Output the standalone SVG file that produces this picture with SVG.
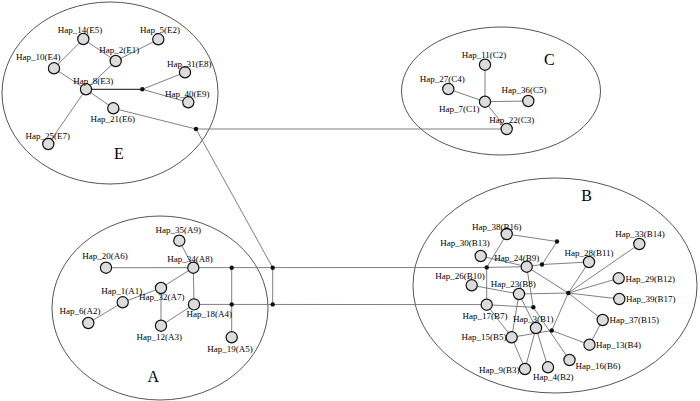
<svg xmlns="http://www.w3.org/2000/svg" width="700" height="401" viewBox="0 0 700 401">
<style>
.bg{fill:#fff}
.grp{fill:none;stroke:#555;stroke-width:1}
.e{stroke:#7f7f7f;stroke-width:1;fill:none}
.ed{stroke:#3a3a3a;stroke-width:1.2;fill:none}
.n circle{fill:#dcdcdc;stroke:#111;stroke-width:1.2}
.j circle{fill:#111;stroke:none}
text{font-family:"Liberation Serif","Times New Roman",serif;font-size:9px;fill:#000}
.big{font-size:16px}
.m{text-anchor:middle}
.s{text-anchor:start}
.en{text-anchor:end}
</style>
<rect class="bg" x="0" y="0" width="700" height="401"/>
<g id="groups">
<ellipse id="groupE" class="grp" cx="110" cy="93" rx="108" ry="91"/>
<ellipse id="groupC" class="grp" cx="501" cy="91" rx="99.5" ry="64"/>
<ellipse id="groupA" class="grp" cx="160" cy="308" rx="108" ry="92"/>
<ellipse id="groupB" class="grp" cx="555" cy="285.5" rx="142" ry="107.5"/>
<text class="big m" x="119" y="159">E</text>
<text class="big m" x="549.3" y="65">C</text>
<text class="big m" x="153.3" y="381.5">A</text>
<text class="big m" x="586.7" y="200.5">B</text>
</g>
<g id="connectors">
<line class="e" x1="83.3" y1="39" x2="54" y2="68.3"/>
<line class="e" x1="83.3" y1="39" x2="115.7" y2="61"/>
<line class="e" x1="158.3" y1="39.3" x2="115.7" y2="61"/>
<line class="e" x1="115.7" y1="61" x2="86" y2="89.3"/>
<line class="e" x1="54" y1="68.3" x2="86" y2="89.3"/>
<line class="e" x1="86" y1="89.3" x2="48.3" y2="144"/>
<line class="e" x1="86" y1="89.3" x2="113.3" y2="108.3"/>
<line class="ed" x1="86" y1="89.3" x2="142.3" y2="89.3"/>
<line class="e" x1="142.3" y1="89.3" x2="185" y2="72.3"/>
<line class="e" x1="142.3" y1="89.3" x2="188.3" y2="102.3"/>
<line class="e" x1="113.3" y1="108.3" x2="196" y2="129"/>
<line class="e" x1="196" y1="129" x2="506.7" y2="129"/>
<line class="e" x1="196" y1="129" x2="272.7" y2="267.7"/>
<line class="e" x1="485" y1="101.7" x2="485" y2="64.7"/>
<line class="e" x1="485" y1="101.7" x2="448.3" y2="89"/>
<line class="e" x1="485" y1="101.7" x2="528.3" y2="101"/>
<line class="e" x1="485" y1="101.7" x2="506.7" y2="129"/>
<line class="e" x1="179.3" y1="240.7" x2="193.3" y2="267.7"/>
<line class="e" x1="106" y1="267.7" x2="486.7" y2="267.5"/>
<line class="e" x1="193.3" y1="267.7" x2="194" y2="304.3"/>
<line class="e" x1="193.3" y1="267.7" x2="161" y2="288"/>
<line class="e" x1="161" y1="288" x2="122.7" y2="302.3"/>
<line class="e" x1="122.7" y1="302.3" x2="88.3" y2="323"/>
<line class="e" x1="161" y1="288" x2="161" y2="325.7"/>
<line class="e" x1="161" y1="325.7" x2="194" y2="304.3"/>
<line class="e" x1="194" y1="304.4" x2="486.7" y2="304.6"/>
<line class="e" x1="231.7" y1="267.7" x2="231.7" y2="337.3"/>
<line class="e" x1="272.7" y1="267.7" x2="272.7" y2="304.4"/>
<line class="e" x1="506.7" y1="234" x2="557" y2="241.5"/>
<line class="e" x1="506.7" y1="234" x2="486.7" y2="267.4"/>
<line class="e" x1="557" y1="241.5" x2="542" y2="264.5"/>
<line class="e" x1="542" y1="264.5" x2="589" y2="262"/>
<line class="e" x1="542" y1="264.5" x2="526.7" y2="266.7"/>
<line class="e" x1="486.7" y1="267.4" x2="526.7" y2="266.7"/>
<line class="e" x1="486.7" y1="267.4" x2="486.7" y2="304.7"/>
<line class="e" x1="480.7" y1="256" x2="526.7" y2="266.7"/>
<line class="e" x1="526.7" y1="266.7" x2="568.3" y2="293"/>
<line class="e" x1="526.7" y1="266.7" x2="533.3" y2="307.3"/>
<line class="e" x1="471.7" y1="285.3" x2="519" y2="294"/>
<line class="e" x1="519" y1="294" x2="568.3" y2="293"/>
<line class="e" x1="519" y1="294" x2="511.7" y2="337.3"/>
<line class="e" x1="519" y1="294" x2="536" y2="328"/>
<line class="e" x1="486.7" y1="304.7" x2="533.3" y2="307.3"/>
<line class="e" x1="486.7" y1="304.7" x2="511.7" y2="337.3"/>
<line class="e" x1="533.3" y1="307.3" x2="569.5" y2="360"/>
<line class="e" x1="511.7" y1="337.3" x2="551.7" y2="330.5"/>
<line class="e" x1="551.7" y1="330.5" x2="589.5" y2="344.7"/>
<line class="e" x1="551.7" y1="330.5" x2="568.3" y2="293"/>
<line class="e" x1="568.3" y1="293" x2="589" y2="262"/>
<line class="e" x1="568.3" y1="293" x2="639.3" y2="244"/>
<line class="e" x1="568.3" y1="293" x2="618.7" y2="278.3"/>
<line class="e" x1="568.3" y1="293" x2="619.3" y2="299"/>
<line class="e" x1="568.3" y1="293" x2="602.7" y2="320"/>
<line class="e" x1="602.7" y1="320" x2="589.5" y2="344.7"/>
<line class="e" x1="536" y1="328" x2="525" y2="369"/>
<line class="e" x1="536" y1="328" x2="548" y2="367.3"/>
<line class="e" x1="511.7" y1="337.3" x2="525" y2="369"/>
</g>
<g id="hap14" class="n"><circle cx="83.3" cy="39" r="5.6"/><text class="m" x="80" y="32.5">Hap_14(E5)</text></g>
<g id="hap5" class="n"><circle cx="158.3" cy="39.3" r="5.6"/><text class="m" x="160" y="32.5">Hap_5(E2)</text></g>
<g id="hap2" class="n"><circle cx="115.7" cy="61" r="5.6"/><text class="m" x="119.3" y="52.5">Hap_2(E1)</text></g>
<g id="hap10" class="n"><circle cx="54" cy="68.3" r="5.6"/><text class="m" x="38.3" y="60">Hap_10(E4)</text></g>
<g id="hap31" class="n"><circle cx="185" cy="72.3" r="5.6"/><text class="m" x="189.3" y="66.5">Hap_31(E8)</text></g>
<g id="hap8" class="n"><circle cx="86" cy="89.3" r="5.6"/><text class="m" x="93.3" y="84">Hap_8(E3)</text></g>
<g id="hap40" class="n"><circle cx="188.3" cy="102.3" r="5.6"/><text class="m" x="187.3" y="96.5">Hap_40(E9)</text></g>
<g id="hap21" class="n"><circle cx="113.3" cy="108.3" r="5.6"/><text class="m" x="112.7" y="122">Hap_21(E6)</text></g>
<g id="hap25" class="n"><circle cx="48.3" cy="144" r="5.6"/><text class="m" x="47.7" y="139">Hap_25(E7)</text></g>
<g id="mvE1" class="j"><circle cx="142.3" cy="89.3" r="2.2"/></g>
<g id="mvE2" class="j"><circle cx="196" cy="129" r="2.2"/></g>
<g id="hap11" class="n"><circle cx="485" cy="64.7" r="5.6"/><text class="m" x="484" y="57.5">Hap_11(C2)</text></g>
<g id="hap27" class="n"><circle cx="448.3" cy="89" r="5.6"/><text class="m" x="442.3" y="81.5">Hap_27(C4)</text></g>
<g id="hap36" class="n"><circle cx="528.3" cy="101" r="5.6"/><text class="m" x="524" y="93">Hap_36(C5)</text></g>
<g id="hap7" class="n"><circle cx="485" cy="101.7" r="5.6"/><text class="m" x="459.3" y="111.5">Hap_7(C1)</text></g>
<g id="hap22" class="n"><circle cx="506.7" cy="129" r="5.6"/><text class="m" x="511.7" y="122.5">Hap_22(C3)</text></g>
<g id="hap35" class="n"><circle cx="179.3" cy="240.7" r="5.6"/><text class="m" x="178.3" y="232.5">Hap_35(A9)</text></g>
<g id="hap20" class="n"><circle cx="106" cy="267.7" r="5.6"/><text class="m" x="105" y="259">Hap_20(A6)</text></g>
<g id="hap34" class="n"><circle cx="193.3" cy="267.7" r="5.6"/><text class="m" x="190" y="262">Hap_34(A8)</text></g>
<g id="hap32" class="n"><circle cx="161" cy="288" r="5.6"/><text class="m" x="161.7" y="300">Hap_32(A7)</text></g>
<g id="hap1" class="n"><circle cx="122.7" cy="302.3" r="5.6"/><text class="m" x="121.7" y="294">Hap_1(A1)</text></g>
<g id="hap18" class="n"><circle cx="194" cy="304.4" r="5.6"/><text class="m" x="209.3" y="316.5">Hap_18(A4)</text></g>
<g id="hap6" class="n"><circle cx="88.3" cy="323" r="5.6"/><text class="m" x="80" y="313.5">Hap_6(A2)</text></g>
<g id="hap12" class="n"><circle cx="161" cy="325.7" r="5.6"/><text class="m" x="159.3" y="340">Hap_12(A3)</text></g>
<g id="hap19" class="n"><circle cx="231.7" cy="337.3" r="5.6"/><text class="m" x="230" y="351.5">Hap_19(A5)</text></g>
<g id="mvA1" class="j"><circle cx="231.7" cy="267.7" r="2.2"/></g>
<g id="mvA2" class="j"><circle cx="272.7" cy="267.7" r="2.2"/></g>
<g id="mvA3" class="j"><circle cx="231.7" cy="304.4" r="2.2"/></g>
<g id="mvA4" class="j"><circle cx="272.7" cy="304.4" r="2.2"/></g>
<g id="hap38" class="n"><circle cx="506.7" cy="234" r="5.6"/><text class="m" x="496.7" y="230">Hap_38(B16)</text></g>
<g id="hap30" class="n"><circle cx="480.7" cy="256" r="5.6"/><text class="m" x="465" y="246">Hap_30(B13)</text></g>
<g id="hap24" class="n"><circle cx="526.7" cy="266.7" r="5.6"/><text class="m" x="516.7" y="260.5">Hap_24(B9)</text></g>
<g id="hap28" class="n"><circle cx="589" cy="262" r="5.6"/><text class="m" x="589" y="256">Hap_28(B11)</text></g>
<g id="hap33" class="n"><circle cx="639.3" cy="244" r="5.6"/><text class="m" x="640" y="237">Hap_33(B14)</text></g>
<g id="hap26" class="n"><circle cx="471.7" cy="285.3" r="5.6"/><text class="m" x="460" y="278.5">Hap_26(B10)</text></g>
<g id="hap23" class="n"><circle cx="519" cy="294" r="5.6"/><text class="m" x="513.3" y="286.5">Hap_23(B8)</text></g>
<g id="hap29" class="n"><circle cx="618.7" cy="278.3" r="5.6"/><text class="s" x="625.5" y="281.5">Hap_29(B12)</text></g>
<g id="hap39" class="n"><circle cx="619.3" cy="299" r="5.6"/><text class="s" x="626" y="302">Hap_39(B17)</text></g>
<g id="hap17" class="n"><circle cx="486.7" cy="304.7" r="5.6"/><text class="m" x="485" y="319">Hap_17(B7)</text></g>
<g id="hap37" class="n"><circle cx="602.7" cy="320" r="5.6"/><text class="s" x="609.5" y="323">Hap_37(B15)</text></g>
<g id="hap3" class="n"><circle cx="536" cy="328" r="5.6"/><text class="m" x="533.3" y="321.5">Hap_3(B1)</text></g>
<g id="hap15" class="n"><circle cx="511.7" cy="337.3" r="5.6"/><text class="en" x="506.5" y="340">Hap_15(B5)</text></g>
<g id="hap13" class="n"><circle cx="589.5" cy="344.7" r="5.6"/><text class="s" x="596" y="348">Hap_13(B4)</text></g>
<g id="hap16" class="n"><circle cx="569.5" cy="360" r="5.6"/><text class="s" x="575.5" y="369">Hap_16(B6)</text></g>
<g id="hap9" class="n"><circle cx="525" cy="369" r="5.6"/><text class="en" x="519.5" y="373">Hap_9(B3)</text></g>
<g id="hap4" class="n"><circle cx="548" cy="367.3" r="5.6"/><text class="m" x="553.3" y="380">Hap_4(B2)</text></g>
<g id="mvB1" class="j"><circle cx="557" cy="241.5" r="2.2"/></g>
<g id="mvB2" class="j"><circle cx="542" cy="264.5" r="2.2"/></g>
<g id="mvB3" class="j"><circle cx="486.7" cy="267.4" r="2.2"/></g>
<g id="mvB4" class="j"><circle cx="568.3" cy="293" r="2.2"/></g>
<g id="mvB5" class="j"><circle cx="533.3" cy="307.3" r="2.2"/></g>
<g id="mvB6" class="j"><circle cx="551.7" cy="330.5" r="2.2"/></g>
</svg>
